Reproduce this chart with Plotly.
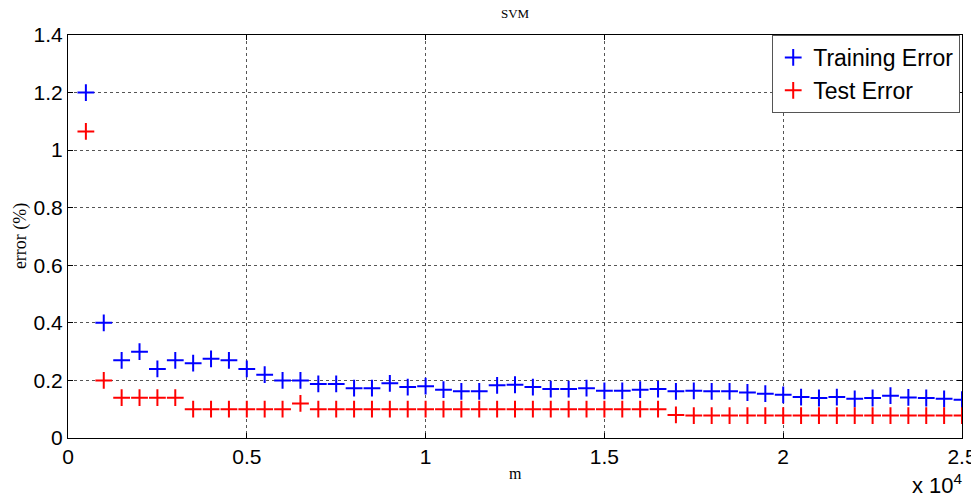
import plotly.graph_objects as go

m_values = [500 * i for i in range(1, 51)]
training_error = [1.20, 0.40, 0.27, 0.30, 0.24, 0.27, 0.26, 0.275, 0.27, 0.24,
                  0.22, 0.20, 0.20, 0.188, 0.188, 0.173, 0.173, 0.19, 0.177, 0.18,
                  0.168, 0.162, 0.162, 0.183, 0.185, 0.177, 0.17, 0.17, 0.173, 0.164,
                  0.164, 0.168, 0.17, 0.162, 0.164, 0.162, 0.162, 0.158, 0.154, 0.150,
                  0.142, 0.139, 0.142, 0.136, 0.139, 0.147, 0.141, 0.139, 0.136, 0.133]
test_error = [1.065, 0.20, 0.14, 0.14, 0.14, 0.14, 0.10, 0.10, 0.10, 0.10,
              0.10, 0.10, 0.12, 0.10, 0.10, 0.10, 0.10, 0.10, 0.10, 0.10,
              0.10, 0.10, 0.10, 0.10, 0.10, 0.10, 0.10, 0.10, 0.10, 0.10,
              0.10, 0.10, 0.10, 0.08, 0.078, 0.078, 0.078, 0.078, 0.078, 0.078,
              0.078, 0.078, 0.078, 0.078, 0.078, 0.078, 0.078, 0.078, 0.078, 0.078]
x_tickvals = [0, 5000, 10000, 15000, 20000, 25000]
x_ticktext = ["0", "0.5", "1", "1.5", "2", "2.5"]
y_tickvals = [0, 0.2, 0.4, 0.6, 0.8, 1.0, 1.2, 1.4]
y_ticktext = ["0", "0.2", "0.4", "0.6", "0.8", "1", "1.2", "1.4"]

SERIF = "Liberation Serif, Times New Roman, serif"
SANS = "Liberation Sans, Arial, sans-serif"

fig = go.Figure()
fig.add_trace(go.Scatter(x=m_values, y=training_error, mode="markers", name="Training Error",
                         marker=dict(symbol="cross-thin-open", size=12, color="#0000ff",
                                     line=dict(width=2, color="#0000ff"))))
fig.add_trace(go.Scatter(x=m_values, y=test_error, mode="markers", name="Test Error",
                         marker=dict(symbol="cross-thin-open", size=12, color="#ff0000",
                                     line=dict(width=2, color="#ff0000"))))

axis_common = dict(showline=True, linecolor="black", linewidth=1, mirror="ticks",
                   ticks="inside", ticklen=5, tickcolor="black",
                   showgrid=True, gridcolor="#555555", griddash="dot", gridwidth=1,
                   zeroline=False, automargin=False,
                   tickfont=dict(family=SANS, size=21, color="black"))

# page body has an 8px default margin, so the figure is sized/offset to compensate
fig.update_layout(
    width=971, height=493,
    margin=dict(l=60, r=17, t=27, b=63),
    paper_bgcolor="white", plot_bgcolor="white",
    xaxis=dict(range=[0, 25000], tickvals=x_tickvals, ticktext=x_ticktext, **axis_common),
    yaxis=dict(range=[0, 1.4], tickvals=y_tickvals, ticktext=y_ticktext, **axis_common),
    legend=dict(x=0.998, y=1.0, xanchor="right", yanchor="top",
                bgcolor="white", bordercolor="#555555", borderwidth=1,
                font=dict(family=SANS, size=23, color="black"),
                itemsizing="constant", itemwidth=30, tracegroupgap=0),
    showlegend=True,
)

fig.add_annotation(text="SVM", xref="paper", yref="paper", x=0.5, y=1.03,
                   xanchor="center", yanchor="bottom", showarrow=False,
                   font=dict(family=SERIF, size=13, color="black"))
fig.add_annotation(text="m", xref="paper", yref="paper", x=0.5, y=-0.062,
                   xanchor="center", yanchor="top", showarrow=False,
                   font=dict(family=SERIF, size=16, color="black"))
fig.add_annotation(text="error (%)", xref="paper", yref="paper", x=-0.053, y=0.5,
                   xanchor="center", yanchor="middle", textangle=-90, showarrow=False,
                   font=dict(family=SERIF, size=18, color="black"))
fig.add_annotation(text="x 10<sup>4</sup>", xref="paper", yref="paper", x=1.003, y=-0.075,
                   xanchor="right", yanchor="top", showarrow=False,
                   font=dict(family=SANS, size=22, color="black"))

fig.write_html("out.html")
